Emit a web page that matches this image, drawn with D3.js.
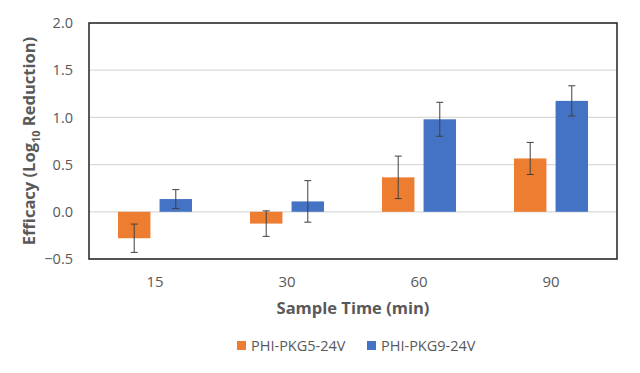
<!DOCTYPE html>
<html>
<head>
<meta charset="utf-8">
<script src="https://cdn.jsdelivr.net/npm/d3@7"></script>
<style>
  body { margin: 0; background: #fff; }
  text { font-family: "Open Sans", sans-serif; }
</style>
</head>
<body>
<div id="chart"></div>
<script>
"use strict";

// == DATA ==
var categories = ["15", "30", "60", "90"];
var seriesNames = ["PHI-PKG5-24V", "PHI-PKG9-24V"];
var pkg5 = [-0.28, -0.125, 0.365, 0.565];
var pkg5Err = [0.15, 0.135, 0.225, 0.17];
var pkg9 = [0.135, 0.11, 0.98, 1.175];
var pkg9Err = [0.10, 0.22, 0.18, 0.16];
var yTicks = [-0.5, 0, 0.5, 1.0, 1.5, 2.0];
var colors = ["#ED7D31", "#4472C4"];

// == BOILERPLATE ==
var W = 640, H = 373;
var margin = { top: 23, right: 23, bottom: 114, left: 89 },
    width = W - margin.left - margin.right,
    height = H - margin.top - margin.bottom;

var root = d3.select("#chart")
  .append("svg")
  .attr("width", W)
  .attr("height", H);

var svg = root.append("g")
  .attr("transform", "translate(" + margin.left + "," + margin.top + ")");

var x = d3.scaleBand().domain(categories).range([0, width]);
var xs = d3.scaleBand().domain([0, 1]).range([-37, 37]).paddingInner(0.22);
var y = d3.scaleLinear().domain([-0.5, 2.0]).range([height, 0]);

// gridlines
svg.selectAll(".grid")
  .data(yTicks)
  .enter()
  .append("line")
  .attr("x1", 0).attr("x2", width)
  .attr("y1", function (d) { return y(d); })
  .attr("y2", function (d) { return y(d); })
  .attr("stroke", "#d9d9d9")
  .attr("stroke-width", 1.2);

// y tick labels
svg.selectAll(".ylab")
  .data(yTicks)
  .enter()
  .append("text")
  .attr("x", -16)
  .attr("y", function (d) { return y(d); })
  .attr("dy", "0.36em")
  .attr("text-anchor", "end")
  .attr("fill", "#595959")
  .style("font-size", "14.5px")
  .text(function (d) { return d3.format(".1f")(d); });

// x tick labels
svg.selectAll(".xlab")
  .data(categories)
  .enter()
  .append("text")
  .attr("x", function (d) { return x(d) + x.bandwidth() / 2; })
  .attr("y", height + 28)
  .attr("text-anchor", "middle")
  .attr("fill", "#595959")
  .style("font-size", "15px")
  .text(function (d) { return d; });

// bars
var series = [
  { vals: pkg5, errs: pkg5Err },
  { vals: pkg9, errs: pkg9Err }
];

series.forEach(function (s, i) {
  var g = svg.append("g");
  g.selectAll("rect")
    .data(categories)
    .enter()
    .append("rect")
    .attr("x", function (d) { return x(d) + x.bandwidth() / 2 + xs(i); })
    .attr("width", xs.bandwidth())
    .attr("y", function (d, j) { return y(Math.max(0, s.vals[j])); })
    .attr("height", function (d, j) { return Math.abs(y(s.vals[j]) - y(0)); })
    .attr("fill", colors[i]);

  // error bars
  categories.forEach(function (d, j) {
    var cx = x(d) + x.bandwidth() / 2 + xs(i) + xs.bandwidth() / 2;
    var y1 = y(s.vals[j] + s.errs[j]), y2 = y(s.vals[j] - s.errs[j]);
    g.append("line").attr("x1", cx).attr("x2", cx).attr("y1", y1).attr("y2", y2)
      .attr("stroke", "#404040").attr("stroke-width", 1);
    [y1, y2].forEach(function (yy) {
      g.append("line").attr("x1", cx - 3.5).attr("x2", cx + 3.5).attr("y1", yy).attr("y2", yy)
        .attr("stroke", "#404040").attr("stroke-width", 1);
    });
  });
});

// plot border
svg.append("rect")
  .attr("x", 0).attr("y", 0)
  .attr("width", width).attr("height", height)
  .attr("fill", "none")
  .attr("stroke", "#222")
  .attr("stroke-width", 1.5);

// axis titles
svg.append("text")
  .attr("x", width / 2)
  .attr("y", height + 55)
  .attr("text-anchor", "middle")
  .attr("fill", "#595959")
  .style("font-size", "16.5px")
  .style("font-weight", "bold")
  .text("Sample Time (min)");

var yt = root.append("text")
  .attr("transform", "translate(35," + (margin.top + height / 2) + ") rotate(-90)")
  .attr("text-anchor", "middle")
  .attr("fill", "#595959")
  .style("font-size", "16.5px")
  .style("font-weight", "bold");
yt.append("tspan").text("Efficacy (Log");
yt.append("tspan").attr("dy", 5).style("font-size", "11px").text("10");
yt.append("tspan").attr("dy", -5).text(" Reduction)");

// legend
var legendX = [237, 367];
seriesNames.forEach(function (n, i) {
  root.append("rect")
    .attr("x", legendX[i]).attr("y", 341)
    .attr("width", 9).attr("height", 9)
    .attr("fill", colors[i]);
  root.append("text")
    .attr("x", legendX[i] + 14).attr("y", 346)
    .attr("dy", "0.36em")
    .attr("fill", "#595959")
    .style("font-size", "14.5px")
    .text(n);
});
</script>
</body>
</html>
